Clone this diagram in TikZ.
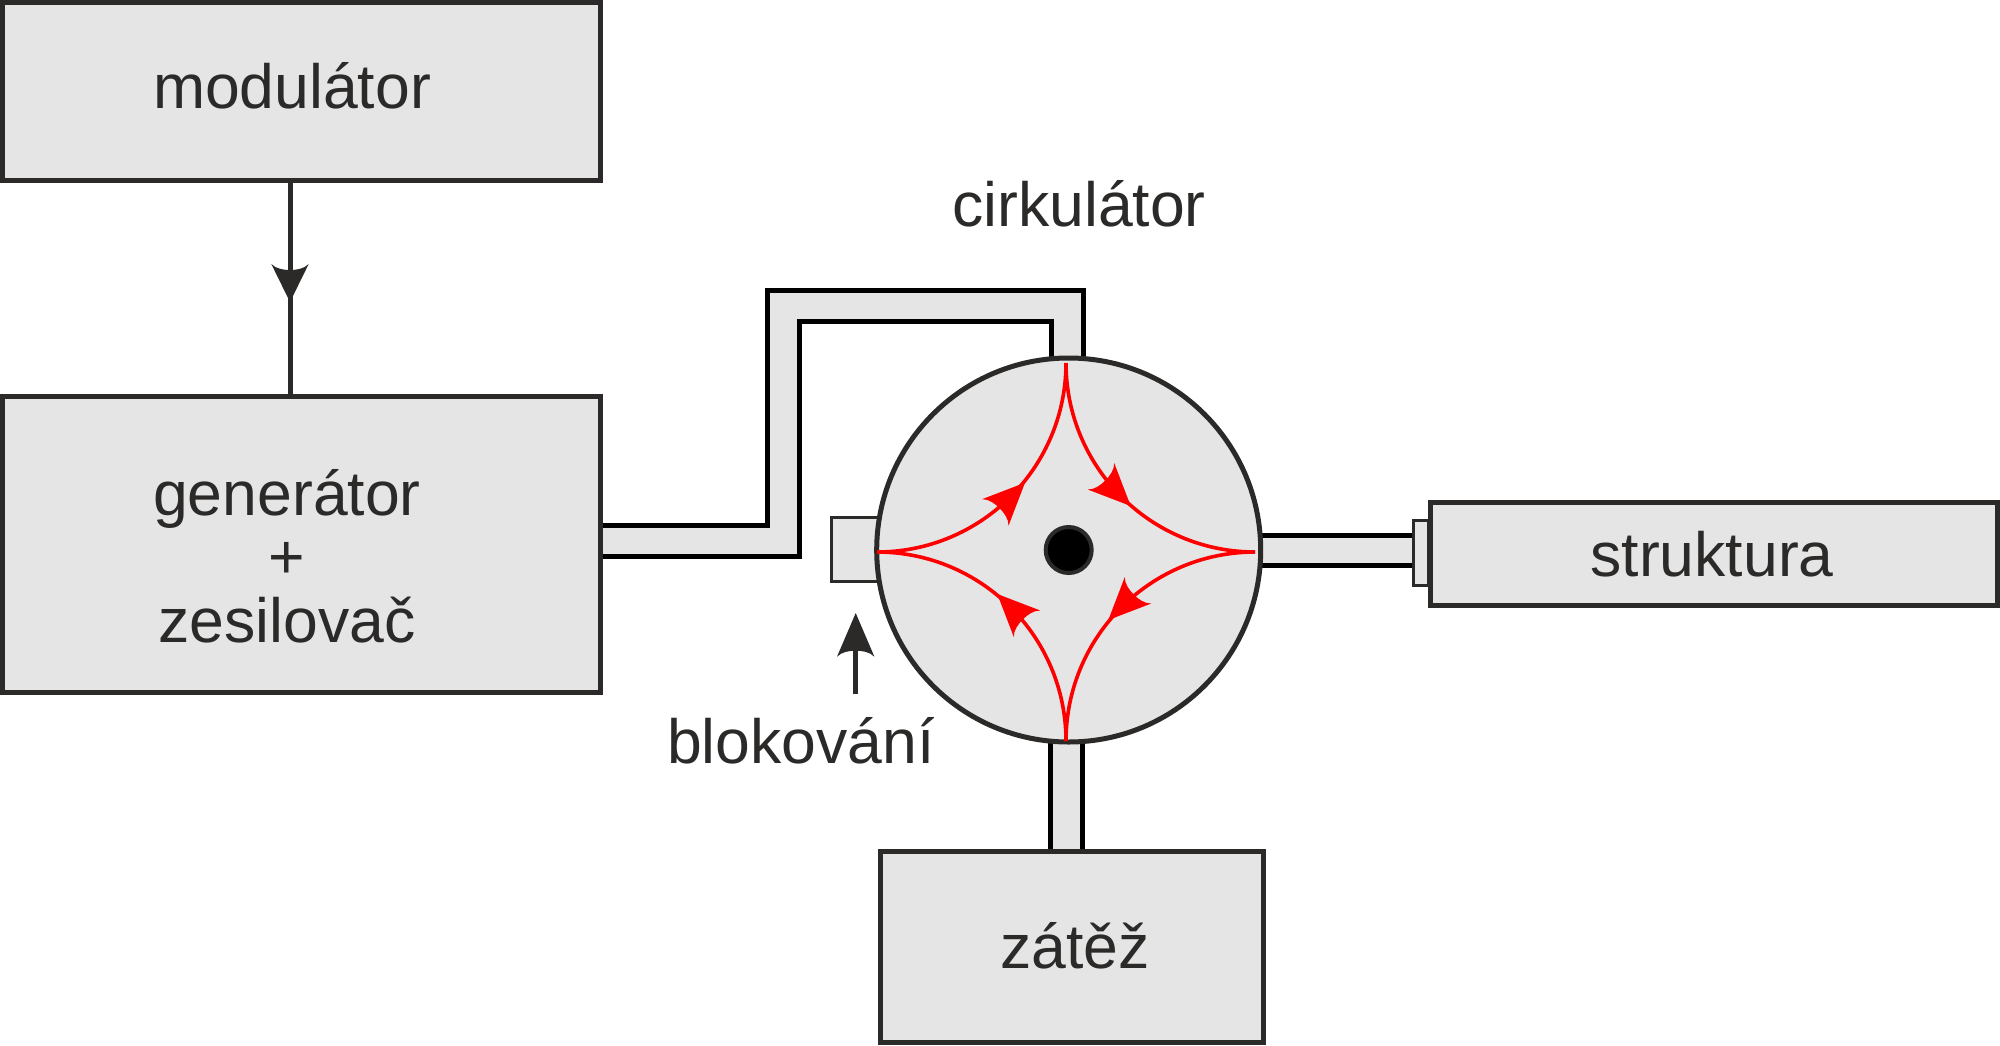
\documentclass[tikz,border=0pt]{standalone}
\usepackage{fontspec}
\setmainfont{Liberation Sans}
\definecolor{ink}{HTML}{2B2A29}
\definecolor{boxfill}{HTML}{E5E5E5}
\newcommand{\headshape}[4]{%
  \fill[#1,shift={(#2)},rotate=#3] (0,0) -- (-#4,18.7) .. controls (-#4+5,14) and (-#4+6,6) .. (-#4+6,0) .. controls (-#4+6,-6) and (-#4+5,-14) .. (-#4,-18.7) -- cycle;}
\tikzset{
  x=1pt,y=-1pt,
  boxnode/.style={draw=ink,fill=boxfill,line width=5pt,rectangle,inner sep=0pt,outer sep=0pt},
  stubnode/.style={draw=ink,fill=boxfill,line width=3pt,rectangle,inner sep=0pt,outer sep=0pt},
  txt/.style={text=ink,inner sep=0pt,anchor=base,font=\fontsize{62.5}{63.5}\selectfont},
  guide/.style={draw=black,line width=5pt,line cap=butt,line join=miter},
  wire/.style={draw=ink,line width=5pt},
  redline/.style={draw=red,line width=3.6pt}
}
\begin{document}
\begin{tikzpicture}
\useasboundingbox (0,0) rectangle (2000,1045);
% guide fills and walls
\coordinate (a1) at (600,525); \coordinate (a2) at (767,525); \coordinate (a3) at (767,290); \coordinate (a4) at (1083,290); \coordinate (a5) at (1083,365);
\coordinate (b1) at (600,556.7); \coordinate (b2) at (799,556.7); \coordinate (b3) at (799,321); \coordinate (b4) at (1051,321); \coordinate (b5) at (1051,365);
\fill[boxfill] (a1)--(a2)--(a3)--(a4)--(a5)--(b5)--(b4)--(b3)--(b2)--(b1)--cycle;
\draw[guide] (a1)--(a2)--(a3)--(a4)--(a5);
\draw[guide] (b1)--(b2)--(b3)--(b4)--(b5);
\coordinate (c1) at (1255,535.7); \coordinate (c2) at (1412,535.7); \coordinate (c3) at (1412,565); \coordinate (c4) at (1255,565);
\fill[boxfill] (c1)--(c2)--(c3)--(c4)--cycle;
\draw[guide] (c1)--(c2); \draw[guide] (c4)--(c3);
\coordinate (d1) at (1050,735); \coordinate (d2) at (1050,851); \coordinate (d3) at (1082.7,851); \coordinate (d4) at (1082.7,735);
\fill[boxfill] (d1)--(d2)--(d3)--(d4)--cycle;
\draw[guide] (d1)--(d2); \draw[guide] (d4)--(d3);
% boxes
\node[boxnode,minimum width=597.5pt,minimum height=177.5pt] (mod) at (301.25,91.25) {};
\node[boxnode,minimum width=597.5pt,minimum height=296.6pt] (gen) at (301.25,544.3) {};
\node[boxnode,minimum width=383pt,minimum height=191pt] (zat) at (1071.5,946.5) {};
\node[stubnode,minimum width=15pt,minimum height=64.6pt] (stubr) at (1420.5,553) {};
\node[boxnode,minimum width=567.5pt,minimum height=103pt] (str) at (1713.75,553.5) {};
\node[stubnode,minimum width=60pt,minimum height=64pt] (stubl) at (861.7,549.7) {};
% circulator
\node[circle,draw=ink,fill=boxfill,line width=5pt,minimum size=384pt,inner sep=0pt,outer sep=0pt] (circ) at (1068.7,550) {};
\node[circle,draw=ink,fill=black,line width=4pt,minimum size=46pt,inner sep=0pt,outer sep=0pt] (dot) at (circ.center) {};
% red arcs
\coordinate (top) at (1066,363); \coordinate (lef) at (877,552); \coordinate (rig) at (1255,552); \coordinate (bot) at (1066,741);
\draw[redline] (lef) .. controls +(104.4,0) and +(0,104.4) .. (top);
\draw[redline] (top) .. controls +(0,104.4) and +(-104.4,0) .. (rig);
\draw[redline] (rig) .. controls +(-104.4,0) and +(0,-104.4) .. (bot);
\draw[redline] (bot) .. controls +(0,-104.4) and +(104.4,0) .. (lef);
\headshape{red}{1025,482.7}{45}{42}
\headshape{red}{1130.7,506}{-45}{42}
\headshape{red}{1108.3,620}{-135}{42}
\headshape{red}{997.3,594}{135}{42}
% modulator arrow
\coordinate (mout) at (290,180); \coordinate (gin) at (290,398); \coordinate (mtip) at (290,302);
\draw[wire] (mout) -- (gin);
\headshape{ink}{mtip}{-90}{38}
% blocking arrow
\coordinate (bfrom) at (855.7,694); \coordinate (bto) at (855.7,650); \coordinate (btip) at (855.7,613);
\draw[wire] (bfrom) -- (bto);
\headshape{ink}{btip}{90}{43.7}
% texts
\node[txt] (t1) at (292,108) {modulátor};
\node[txt,align=center,anchor=center] (t2) at (287,556) {generátor\\+\\zesilovač};
\node[txt] (t3) at (1079,226) {cirkulátor};
\node[txt] (t4) at (801,763) {blokování};
\node[txt] (t5) at (1712,576.5) {struktura};
\node[txt] (t6) at (1075,968) {zátěž};
\end{tikzpicture}
\end{document}
